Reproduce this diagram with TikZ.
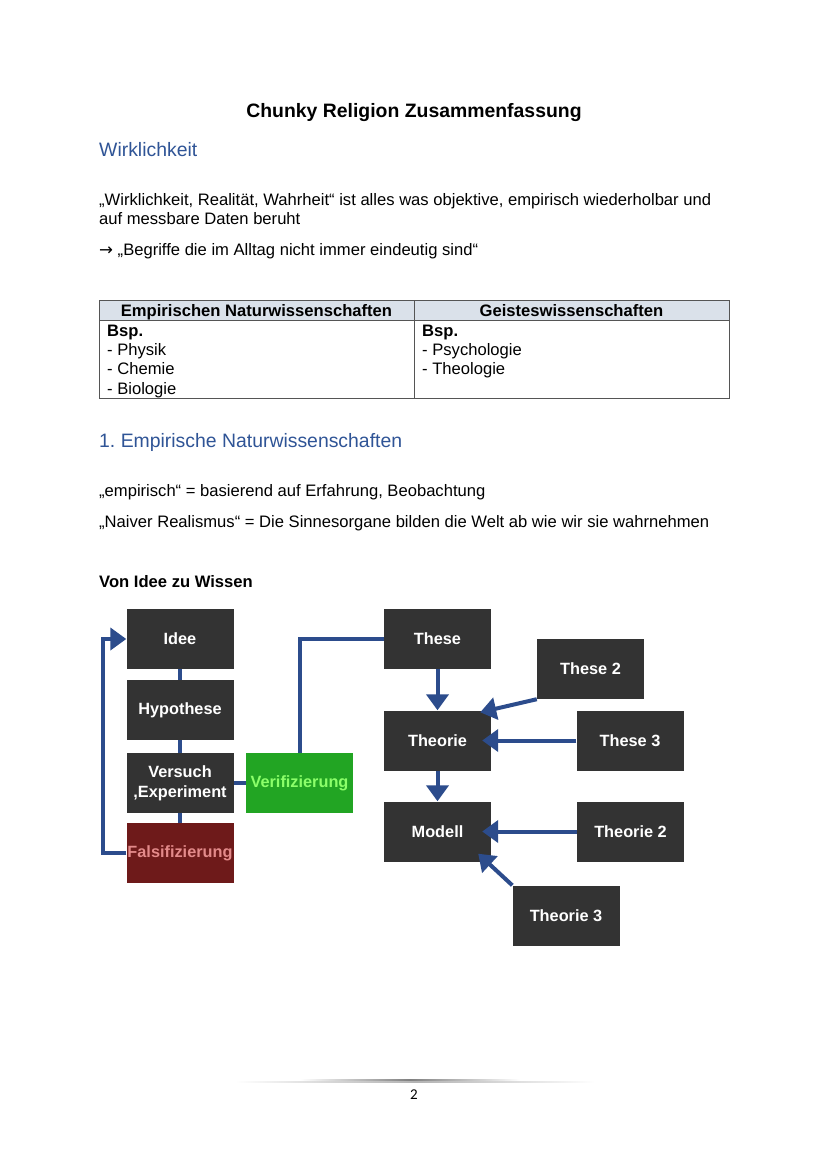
\documentclass[tikz,border=0pt]{standalone}
\usepackage{fontspec}
\setmainfont{Liberation Sans}
\newfontfamily\symfont{DejaVu Sans}
\newfontfamily\numfont{Carlito}
\usetikzlibrary{arrows.meta}
\frenchspacing

\definecolor{boxgray}{HTML}{333333}
\definecolor{flowblue}{HTML}{2C4C8C}
\definecolor{headblue}{HTML}{2F5496}
\definecolor{falsred}{HTML}{6E1A1A}
\definecolor{falstext}{HTML}{E38A8A}
\definecolor{verigreen}{HTML}{22A523}
\definecolor{veritext}{HTML}{8CFF6A}
\definecolor{tablehead}{HTML}{DAE1EA}
\definecolor{tableline}{HTML}{555555}

\tikzset{
  body/.style={anchor=base west, inner sep=0, font=\fontsize{16.6}{19}\selectfont},
  heading/.style={anchor=base west, inner sep=0, text=headblue, font=\fontsize{19.4}{23}\selectfont},
  flowbox/.style={fill=boxgray, text=white, font=\bfseries\fontsize{16.3}{20}\selectfont,
    minimum width=107pt, minimum height=60pt, inner sep=0, align=center},
  flow/.style={draw=flowblue, line width=4pt},
  flowarrow/.style={flow, -{Triangle[length=16pt,width=22pt]}},
}

\begin{document}
\begin{tikzpicture}[x=1pt,y=-1pt]
  \useasboundingbox[fill=white] (0,0) rectangle (828,1171);

  % text part
  \node[anchor=base, inner sep=0, font=\bfseries\fontsize{19.4}{23}\selectfont] (title) at (414,117) {Chunky Religion Zusammenfassung};
  \node[heading] (wirk) at (99,156) {Wirklichkeit};
  \node[body] (def1) at (99,205) {„Wirklichkeit, Realität, Wahrheit“ ist alles was objektive, empirisch wiederholbar und};
  \node[body] (def2) at (99,224) {auf messbare Daten beruht};
  \node[body] (begr) at (99,255) {{\symfont →} „Begriffe die im Alltag nicht immer eindeutig sind“};

  % table
  \fill[tablehead] (99,300) rectangle (729,320);
  \draw[tableline, line width=1pt] (99,300) rectangle (729,398);
  \draw[tableline, line width=1pt] (99,320) -- (729,320);
  \draw[tableline, line width=1pt] (414,300) -- (414,398);
  \node[body, anchor=base, font=\bfseries\fontsize{16.6}{19}\selectfont] (th1) at (256.5,316) {Empirischen Naturwissenschaften};
  \node[body, anchor=base, font=\bfseries\fontsize{16.6}{19}\selectfont] (th2) at (571.5,316) {Geisteswissenschaften};
  \node[body, font=\bfseries\fontsize{16.6}{19}\selectfont] (bsp1) at (107,336) {Bsp.};
  \node[body] (phys) at (107,355) {- Physik};
  \node[body] (chem) at (107,374) {- Chemie};
  \node[body] (bio) at (107,394) {- Biologie};
  \node[body, font=\bfseries\fontsize{16.6}{19}\selectfont] (bsp2) at (422,336) {Bsp.};
  \node[body] (psy) at (422,355) {- Psychologie};
  \node[body] (theo) at (422,374) {- Theologie};

  \node[heading] (emp) at (99,447) {1. Empirische Naturwissenschaften};
  \node[body] (empdef) at (99,496) {„empirisch“ = basierend auf Erfahrung, Beobachtung};
  \node[body] (naiv) at (99,527) {„Naiver Realismus“ = Die Sinnesorgane bilden die Welt ab wie wir sie wahrnehmen};
  \node[body, font=\bfseries\fontsize{16.6}{19}\selectfont] (vonidee) at (99,587) {Von Idee zu Wissen};

  % diagram
  \node[flowbox] (idee) at (180,639) {Idee};
  \node[flowbox] (hyp) at (180,710) {Hypothese};
  \node[flowbox] (versuch) at (180,783) {Versuch\\,Experiment};
  \node[flowbox, fill=falsred, text=falstext] (falsi) at (180,853) {Falsifizierung};
  \node[flowbox, fill=verigreen, text=veritext] (veri) at (299.5,783) {Verifizierung};
  \node[flowbox] (these) at (437.5,639) {These};
  \node[flowbox] (these2) at (590.5,669) {These 2};
  \node[flowbox] (theorie) at (437.5,740.5) {Theorie};
  \node[flowbox] (these3) at (630,740.5) {These 3};
  \node[flowbox] (modell) at (437.5,831.5) {Modell};
  \node[flowbox] (theorie2) at (630.5,831.5) {Theorie 2};
  \node[flowbox] (theorie3) at (566,915.5) {Theorie 3};

  \draw[flow] (idee) -- (hyp);
  \draw[flow] (hyp) -- (versuch);
  \draw[flow] (versuch) -- (falsi);
  \draw[flow] (versuch) -- (veri);
  \draw[flow] (veri.north) |- (these);
  \draw[flowarrow] (falsi.west) -- ++(-23,0) |- (idee.west);
  \draw[flowarrow] (these) -- (theorie);
  \draw[flowarrow] (these2.south west) -- ([xshift=-11pt,yshift=-2pt]theorie.north east);
  \draw[flowarrow] (these3) -- ([xshift=-9pt]theorie.east);
  \draw[flowarrow] (theorie) -- (modell);
  \draw[flowarrow] (theorie2) -- ([xshift=-9pt]modell.east);
  \draw[flowarrow] (theorie3.north west) -- ([xshift=-13pt,yshift=8pt]modell.south east);

  % footer
  \shade[left color=white, right color=white, middle color=gray!60] (235,1081) rectangle (595,1082.5);
  \shade[left color=white, right color=white, middle color=gray] (300,1079) rectangle (520,1080);
  \node[anchor=base, inner sep=0, font=\numfont\fontsize{15}{18}\selectfont] (pagenr) at (414,1099) {2};
\end{tikzpicture}
\end{document}
